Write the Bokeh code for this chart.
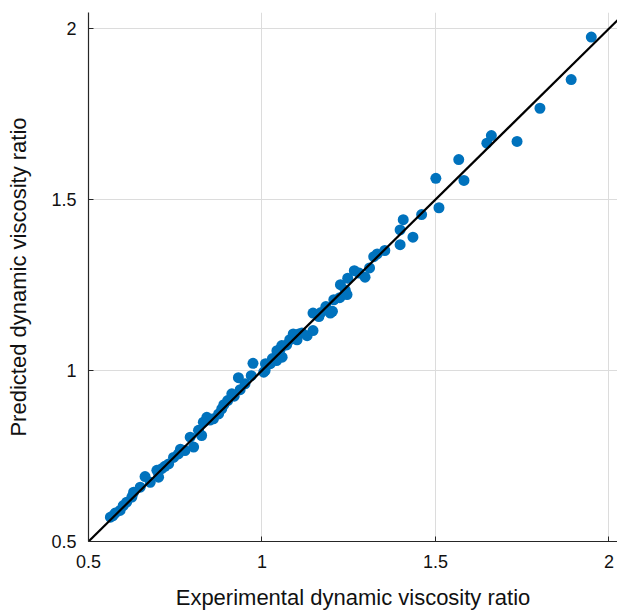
from bokeh.plotting import figure
from bokeh.models import Range1d, FixedTicker
from bokeh.embed import file_html
from bokeh.resources import INLINE

experimental = [0.563, 0.570, 0.577, 0.591, 0.600, 0.610, 0.625, 0.630, 0.649, 0.663, 0.678, 0.697,
                0.702, 0.711, 0.720, 0.731, 0.745, 0.759, 0.765, 0.778, 0.793, 0.803, 0.817, 0.826,
                0.831, 0.841, 0.850, 0.860, 0.875, 0.884, 0.890, 0.901, 0.913, 0.920, 0.932, 0.937,
                0.951, 0.969, 0.974, 1.005, 1.009, 1.010, 1.024, 1.030, 1.042, 1.043, 1.048, 1.052,
                1.053, 1.057, 1.058, 1.071, 1.080, 1.090, 1.101, 1.106, 1.115, 1.130, 1.147, 1.147,
                1.164, 1.170, 1.184, 1.197, 1.203, 1.207, 1.224, 1.226, 1.240, 1.245, 1.247, 1.266,
                1.280, 1.297, 1.310, 1.322, 1.332, 1.354, 1.398, 1.398, 1.407, 1.435, 1.460, 1.501,
                1.510, 1.567, 1.582, 1.648, 1.661, 1.735, 1.801, 1.891, 1.949]
predicted = [0.571, 0.575, 0.583, 0.591, 0.605, 0.615, 0.630, 0.644, 0.659, 0.690, 0.673, 0.708,
             0.688, 0.713, 0.720, 0.727, 0.746, 0.756, 0.770, 0.766, 0.805, 0.776, 0.825, 0.810,
             0.849, 0.863, 0.855, 0.859, 0.873, 0.888, 0.900, 0.912, 0.932, 0.925, 0.979, 0.944,
             0.961, 0.985, 1.021, 0.995, 1.000, 1.020, 1.020, 1.035, 1.029, 1.058, 1.054, 1.044,
             1.063, 1.073, 1.039, 1.075, 1.090, 1.107, 1.090, 1.107, 1.110, 1.102, 1.117, 1.168,
             1.158, 1.170, 1.187, 1.168, 1.173, 1.207, 1.213, 1.251, 1.235, 1.222, 1.270, 1.292,
             1.285, 1.273, 1.300, 1.333, 1.341, 1.351, 1.368, 1.411, 1.441, 1.390, 1.456, 1.562,
             1.476, 1.617, 1.556, 1.665, 1.687, 1.670, 1.767, 1.851, 1.975]

ideal_x = [0.5, 2.05]
ideal_y = [0.5, 2.05]

tick_values = [0.5, 1, 1.5, 2]

p = figure(width=617, height=613, output_backend="svg", toolbar_location=None,
           x_range=Range1d(0.5, 2.0245), y_range=Range1d(0.5, 2.047),
           min_border_left=88, min_border_right=0, min_border_top=12, min_border_bottom=72,
           background_fill_color="white", border_fill_color="white")
p.outline_line_color = None

p.scatter(experimental, predicted, size=11, fill_color="#0072BD", line_color="#0072BD",
          line_width=0)
p.line(ideal_x, ideal_y, line_color="black", line_width=2.2)

font = "Liberation Sans"
for ax in (p.xaxis[0], p.yaxis[0]):
    ax.ticker = FixedTicker(ticks=tick_values)
    ax.major_label_overrides = {0.5: "0.5", 1: "1", 1.5: "1.5", 2: "2"}
    ax.minor_tick_line_color = None
    ax.major_tick_in = 5
    ax.major_tick_out = 0
    ax.major_tick_line_color = "#262626"
    ax.axis_line_color = "#262626"
    ax.axis_line_width = 1.2
    ax.major_label_text_font = font
    ax.major_label_text_font_size = "18px"
    ax.major_label_text_color = "#111111"
    ax.axis_label_text_font = font
    ax.axis_label_text_font_size = "22px"
    ax.axis_label_text_font_style = "normal"
    ax.axis_label_text_color = "#111111"

p.xaxis.axis_label = "Experimental dynamic viscosity ratio"
p.yaxis.axis_label = "Predicted dynamic viscosity ratio"
p.xaxis.major_label_standoff = 13
p.yaxis.major_label_standoff = 12
p.xaxis.axis_label_standoff = 14
p.yaxis.axis_label_standoff = 17

p.xgrid.ticker = FixedTicker(ticks=tick_values)
p.ygrid.ticker = FixedTicker(ticks=tick_values)
p.grid.grid_line_color = "#dcdcdc"
p.grid.grid_line_width = 1

open("out.html", "w").write(file_html(p, INLINE))
